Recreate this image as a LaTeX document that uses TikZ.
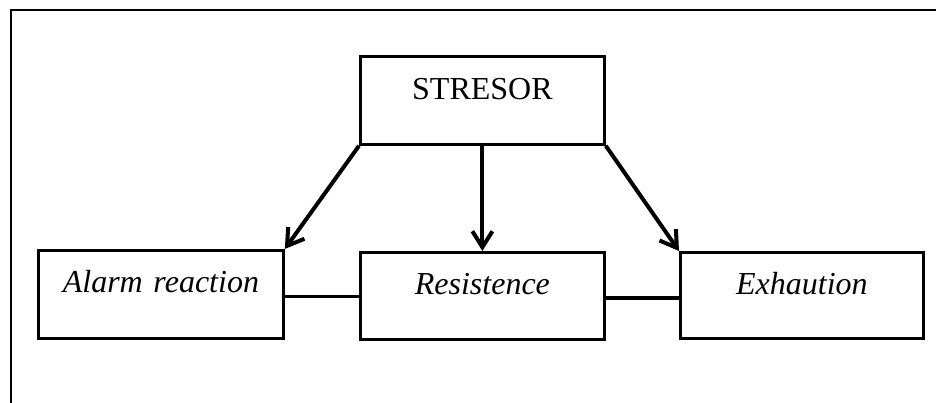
\documentclass[tikz,border=0pt]{standalone}
\usepackage{fontspec}
\setmainfont{Liberation Serif}
\usetikzlibrary{arrows.meta}
\begin{document}
\begin{tikzpicture}[x=0.75pt,y=-0.75pt,
  stage/.style={draw, line width=2.1pt, inner sep=0pt, anchor=north west,
    align=center, font=\fontsize{24}{28}\selectfont},
  flow/.style={line width=3pt, -{Straight Barb[length=12pt,width=15pt]}},
  link/.style={line width=2.8pt},
  frame/.style={line width=1.9pt}]
\useasboundingbox (0,0) rectangle (936,403);

% open frame along the top and left
\draw[frame] (11,403) -- (11,10) -- (936,10);

% stages
\node[stage, text width=183pt, text height=32.25pt, text depth=33.75pt]
  (stresor) at (359,55) {STRESOR};
\node[stage, text width=183.75pt, text height=31.5pt, text depth=34.5pt]
  (alarm) at (37,249) {\textit{Alarm reaction}};
\node[stage, text width=183pt, text height=31.5pt, text depth=33.75pt]
  (resist) at (359,251) {\textit{Resistence}};
\node[stage, text width=182.25pt, text height=31.5pt, text depth=33pt]
  (exh) at (679,251) {\textit{Exhaution}};

% arrows from the stressor
\draw[flow] (stresor.south west) -- (alarm.north east);
\draw[flow] (stresor.south) -- (resist.north);
\draw[flow] (stresor.south east) -- (exh.north west);

% links between the stages
\coordinate (la) at ([yshift=-1.5pt]alarm.east);
\coordinate (lb) at ([yshift=-1.5pt]resist.east);
\draw[link] (la) -- (la -| resist.west);
\draw[link] (lb) -- (lb -| exh.west);
\end{tikzpicture}
\end{document}
